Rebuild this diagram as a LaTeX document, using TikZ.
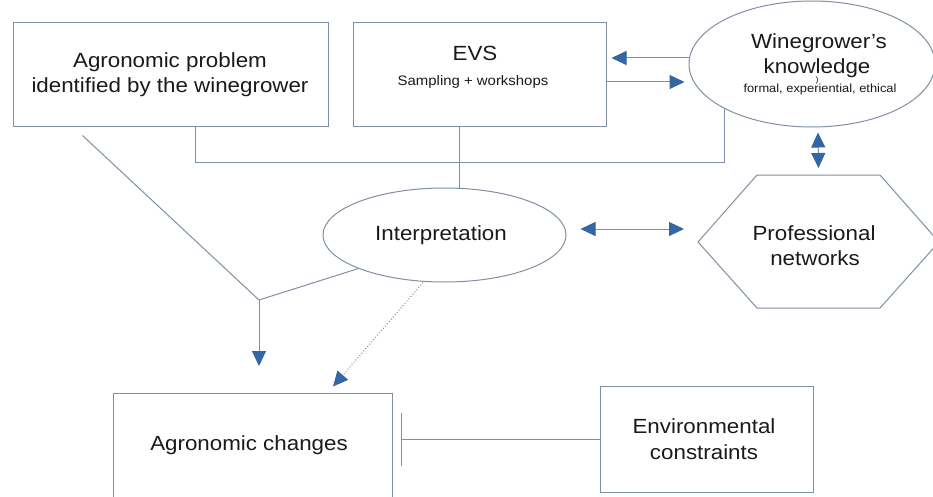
\documentclass[tikz,border=0pt]{standalone}
\usepackage{fontspec}
\setmainfont{Liberation Sans}[FakeStretch=1.09]
\usetikzlibrary{arrows.meta,shapes.geometric,calc}
\definecolor{lineclr}{RGB}{128,144,164}
\definecolor{tipclr}{RGB}{52,101,164}
\definecolor{txtclr}{RGB}{26,26,26}
\tikzset{
  box/.style={draw=lineclr,line width=1pt,rectangle,inner sep=0pt},
  ell/.style={draw=lineclr,line width=1pt,ellipse,inner sep=0pt},
  big/.style={font=\fontsize{20.5}{25}\selectfont,text=txtclr,anchor=base,inner sep=0pt},
  small/.style={font=\fontsize{13.7}{16}\selectfont,text=txtclr,anchor=base,inner sep=0pt},
  tiny/.style={font=\fontsize{11.8}{14}\selectfont,text=txtclr,anchor=base,inner sep=0pt},
  conn/.style={draw=lineclr,line width=1pt},
  arr/.style={conn,-{Triangle[length=15pt,width=14pt,color=tipclr]}},
  dbl/.style={conn,{Triangle[length=15pt,width=14pt,color=tipclr]}-{Triangle[length=15pt,width=14pt,color=tipclr]}},
  dotarr/.style={draw=lineclr,line width=1pt,dotted,-{Triangle[length=15pt,width=14pt,color=tipclr]}},
  inhib/.style={conn,-{Bar[width=53pt,line width=1.6pt,color=lineclr]}}
}
\begin{document}
\begin{tikzpicture}[x=1pt,y=-1pt]
\useasboundingbox (0,0) rectangle (933,497);
\fill[white] (0,0) rectangle (933,497);

% shapes
\node[box,minimum width=315pt,minimum height=104pt] (prob) at (170.5,75) {};
\node[box,minimum width=253pt,minimum height=104pt] (evs) at (479.5,75) {};
\node[ell,minimum width=246pt,minimum height=126pt] (wine) at (812,64) {};
\node[ell,minimum width=243pt,minimum height=94pt] (interp) at (444.5,235) {};
\node[box,minimum width=279pt,minimum height=120pt] (chg) at (252.5,453) {};
\node[box,minimum width=213pt,minimum height=106pt] (env) at (706.5,439) {};

\coordinate (hexT) at (818.5,175);
\coordinate (hexL) at (698,242);
\draw[draw=lineclr,line width=1pt] (757,175) -- (880,175) -- (939,242) -- (880,308) -- (757,308) -- (hexL) -- cycle;

% texts
\node[big] (t1) at (170,68) {Agronomic problem};
\node[big] (t2) at (170,93) {identified by the winegrower};
\node[big] (t3) at (475,61) {EVS};
\node[small] (t4) at (473,86) {Sampling + workshops};
\node[big] (t5) at (819,49) {Winegrower’s};
\node[big] (t6) at (817,74) {knowledge};
\node[tiny] (t7) at (820,93) {formal, experiential, ethical};
\node[font=\fontsize{8}{8}\selectfont,text=txtclr,inner sep=0pt] (t7b) at (817,80) {)};
\node[big] (t8) at (441,240) {Interpretation};
\node[big] (prof) at (814,240) {Professional};
\node[big] (t9) at (815,265) {networks};
\node[big] (t10) at (249,450) {Agronomic changes};
\node[big] (t11) at (704,433) {Environmental};
\node[big] (t12) at (704,459) {constraints};

% connectors
\coordinate (j) at (259,300);
\draw[conn] ([xshift=24.5pt]prob.south) -- ++(0,35) -| (wine.south west);
\draw[conn] ([xshift=-20.5pt]evs.south) -- ([xshift=-20.5pt]evs.south |- interp.north);
\draw[conn] ([shift={(-88,8)}]prob.south) -- (j);
\draw[conn] (interp.south west) -- (j);
\draw[arr] (j) -- ++(0,66);
\draw[dotarr] ([xshift=-21.5pt]interp.south) -- ([shift={(80.5,-6)}]chg.north);
\draw[arr] ([yshift=-7pt]evs.east) -- ++(78,0);
\draw[arr] ([yshift=6pt]wine.west) -- ++(-77,0);
\draw[dbl] ([shift={(6,5)}]wine.south) -- ([shift={(0,-7)}]hexT);
\draw[dbl] ([shift={(14,-6)}]interp.east) -- ([shift={(-14,-13)}]hexL);
\draw[inhib] (env.west) -- ++(-199,0);
\end{tikzpicture}
\end{document}
